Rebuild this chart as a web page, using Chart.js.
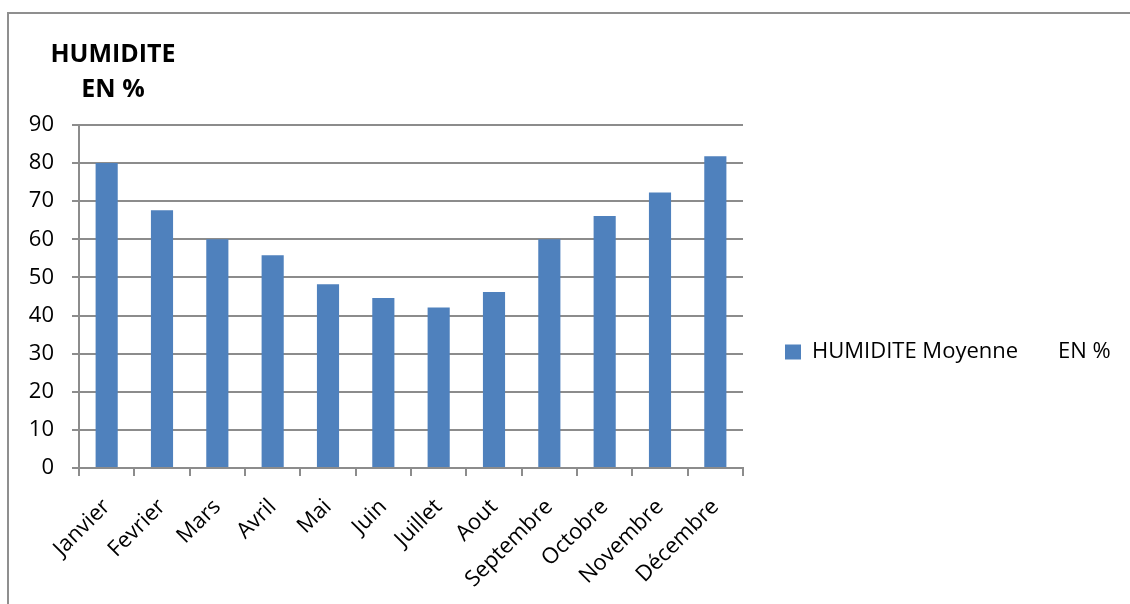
<!DOCTYPE html>
<html>
<head>
<meta charset="utf-8">
<script src="https://cdn.jsdelivr.net/npm/chart.js@4/dist/chart.umd.min.js"></script>
<style>
  html, body { margin: 0; padding: 0; background: #fff; }
  #wrap { position: relative; width: 1130px; height: 604px; overflow: hidden; }
  #frame { position: absolute; left: 7px; top: 12px; width: 1200px; height: 700px;
           border-left: 2px solid #8f8f8f; border-top: 2px solid #8f8f8f; }
  #title { position: absolute; left: 13px; top: 35px; width: 200px; text-align: center;
           font: bold 25px/35px "Open Sans", sans-serif; color: #000; }
  canvas { position: absolute; left: 0; top: 0; }
</style>
</head>
<body>
<div id="wrap">
  <div id="frame"></div>
  <canvas id="chart" width="1130" height="604"></canvas>
  <div id="title">HUMIDITE<br>EN %</div>
</div>
<script>
// Données
const mois = ['Janvier', 'Fevrier', 'Mars', 'Avril', 'Mai', 'Juin', 'Juillet', 'Aout',
              'Septembre', 'Octobre', 'Novembre', 'Décembre'];
const humidite = [80, 67.6, 60, 55.8, 48.2, 44.6, 42.1, 46.2, 60, 66.1, 72.3, 81.8];
const serieLabel = 'HUMIDITE Moyenne       EN %';
const yMin = 0;
const yMax = 90;
const yStep = 10;

const GRID = '#8c8c8c';
const FONT = '"Open Sans", sans-serif';

// légende : largeur fixe pour caler la zone de tracé, et centrage vertical comme l'original
const legendBox = {
    id: 'legendBox',
    beforeInit(chart) {
        const origFit = chart.legend.fit;
        chart.legend.fit = function () {
            origFit.bind(chart.legend)();
            this.width = 387;
        };
    },
    afterLayout(chart) {
        const lg = chart.legend;
        lg.bottom = 579;
        lg.height = lg.bottom - lg.top;
    }
};

new Chart(document.getElementById('chart'), {
    type: 'bar',
    data: {
        labels: mois,
        datasets: [{
            label: serieLabel,
            data: humidite,
            backgroundColor: '#4f81bd',
            borderColor: '#4f81bd',
            borderWidth: 0,
            categoryPercentage: 1,
            barPercentage: 0.4,
        }]
    },
    options: {
        responsive: false,
        animation: false,
        layout: { padding: { left: 0, top: 125, right: 0, bottom: 0 } },
        scales: {
            x: {
                grid: { display: true, drawOnChartArea: false, drawTicks: true, tickLength: 8, color: GRID, lineWidth: 2 },
                border: { display: true, color: GRID, width: 2 },
                ticks: { color: '#000', font: { family: FONT, size: 22 }, maxRotation: 45, minRotation: 45, padding: 18 },
                afterFit: (scale) => { scale.height = 136; }
            },
            y: {
                min: yMin,
                max: yMax,
                grid: { color: GRID, lineWidth: 2, tickLength: 7 },
                border: { display: true, color: GRID, width: 2 },
                ticks: { stepSize: yStep, color: '#000', font: { family: FONT, size: 22 }, padding: 18 },
                afterFit: (scale) => { scale.width = 79; }
            }
        },
        plugins: {
            legend: {
                position: 'right',
                labels: { boxWidth: 16, boxHeight: 15, padding: 42, color: '#000', font: { family: FONT, size: 22 } }
            },
            tooltip: { enabled: false }
        }
    },
    plugins: [legendBox]
});
</script>
</body>
</html>
